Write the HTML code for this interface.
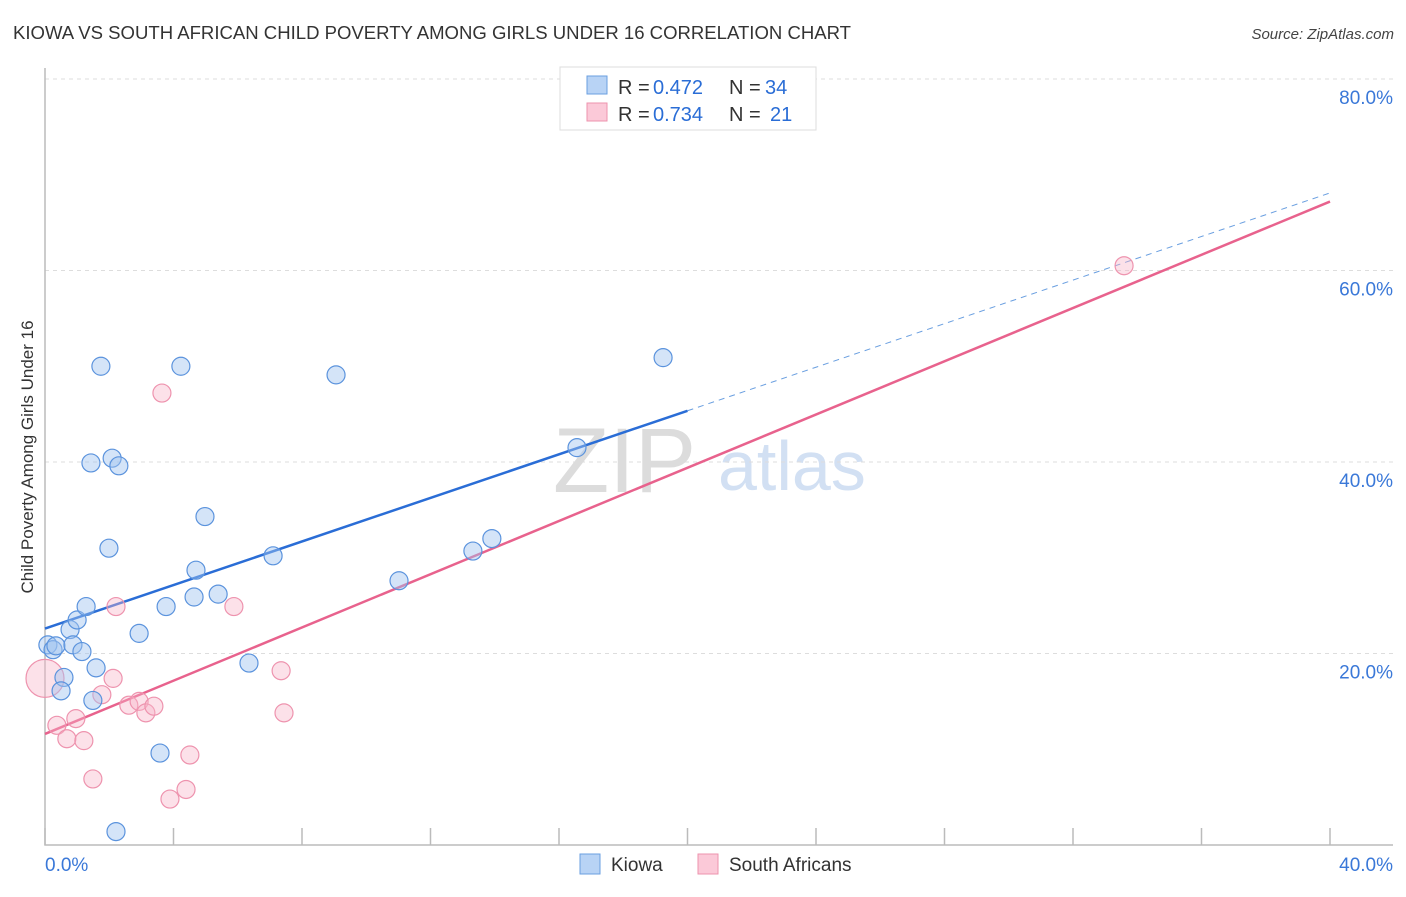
<!DOCTYPE html>
<html><head><meta charset="utf-8"><style>
body{margin:0;background:#fff;font-family:"Liberation Sans",sans-serif}
svg text{font-family:"Liberation Sans",sans-serif}
</style></head><body>
<svg id="chart" width="1406" height="892" xmlns="http://www.w3.org/2000/svg">
<text x="13" y="39" font-size="18" fill="#333" textLength="838" lengthAdjust="spacingAndGlyphs">KIOWA VS SOUTH AFRICAN CHILD POVERTY AMONG GIRLS UNDER 16 CORRELATION CHART</text>
<text x="1394" y="39" font-size="15" fill="#444" text-anchor="end" font-style="italic">Source: ZipAtlas.com</text>
<g>
<text x="553" y="492" font-size="92" fill="#dcdcdc" font-family="Liberation Serif">ZIP</text>
<text x="718" y="490" font-size="70" fill="#d2e0f3">atlas</text>
</g>
<g id="grid"></g>
<g id="axes"></g>
<g id="lines"></g>
<g id="points"></g>
<text transform="translate(33,457) rotate(-90)" text-anchor="middle" font-size="17" fill="#333">Child Poverty Among Girls Under 16</text>
<g>
<rect x="560" y="67" width="256" height="63" fill="#fff" stroke="#ddd"/>
<rect x="587" y="76" width="20" height="18" fill="#b8d3f5" stroke="#6a9fe0"/>
<rect x="587" y="103" width="20" height="18" fill="#fbc9d8" stroke="#ee93ae"/>
<text x="618" y="94" font-size="20" fill="#333">R = </text><text x="653" y="94" font-size="20" fill="#2a6dd6">0.472</text>
<text x="729" y="94" font-size="20" fill="#333">N = </text><text x="765" y="94" font-size="20" fill="#2a6dd6">34</text>
<text x="618" y="121" font-size="20" fill="#333">R = </text><text x="653" y="121" font-size="20" fill="#2a6dd6">0.734</text>
<text x="729" y="121" font-size="20" fill="#333">N = </text><text x="770" y="121" font-size="20" fill="#2a6dd6">21</text>
</g>
<g>
<rect x="580" y="854" width="20" height="20" fill="#b8d3f5" stroke="#6a9fe0"/>
<text x="611" y="871" font-size="19" fill="#333">Kiowa</text>
<rect x="698" y="854" width="20" height="20" fill="#fbc9d8" stroke="#ee93ae"/>
<text x="729" y="871" font-size="19" fill="#333">South Africans</text>
</g>
</svg>
<script>
const yTicks=[20,40,60,80];
const yTickLabels=["20.0%","40.0%","60.0%","80.0%"];
const xTicks=[0,4,8,12,16,20,24,28,32,36,40];
const kiowaX=[0.09,0.25,0.34,0.59,0.50,0.78,0.87,1.00,1.15,1.28,1.59,1.49,1.74,1.43,2.09,2.30,1.99,2.93,3.77,3.58,4.23,4.98,4.70,4.64,5.39,6.35,7.10,9.06,11.02,13.32,13.91,16.56,19.24,2.21];
const kiowaY=[20.9,20.4,20.8,17.5,16.1,22.5,20.9,23.5,20.2,24.9,18.5,15.1,50.0,39.9,40.4,39.6,31.0,22.1,24.9,9.6,50.0,34.3,28.7,25.9,26.2,19.0,30.2,49.1,27.6,30.7,32.0,41.5,50.9,1.4];
const saX=[0,0.37,0.68,0.96,1.21,1.49,1.77,2.12,2.21,2.61,2.93,3.14,3.39,3.64,3.89,4.39,4.51,5.88,7.35,7.44,33.59];
const saY=[17.4,12.5,11.1,13.2,10.9,6.9,15.7,17.4,24.9,14.6,15.0,13.8,14.5,47.2,4.8,5.8,9.4,24.9,18.2,13.8,60.5];
const kiowaFit=[22.6,68.1];
const saFit=[11.6,67.2];
const NS="http://www.w3.org/2000/svg";
const X=v=>45+v/40*1285;
const Y=v=>845-v/20*191.5;
function mk(tag,attrs,parent){const e=document.createElementNS(NS,tag);for(const k in attrs)e.setAttribute(k,attrs[k]);document.getElementById(parent).appendChild(e);return e;}
yTicks.forEach((t,i)=>{
 const g=mk('line',{x1:45,x2:1393,y1:Y(t),y2:Y(t),stroke:'#ddd','stroke-dasharray':'4,4'},'grid');
 
 
 const l=mk('text',{x:1393,y:Y(t)+25,'font-size':19,fill:'#3a78d8','text-anchor':'end'},'axes');
 l.textContent=yTickLabels[i];
 
 
});
const ax=mk('path',{d:'M45 68V845H1393',fill:'none',stroke:'#bbb','stroke-width':1.5},'axes');


xTicks.forEach(t=>{
 const tk=mk('line',{x1:X(t),x2:X(t),y1:828,y2:845,stroke:'#bbb','stroke-width':1.5},'axes');
 
 
});
[[0,'0.0%','start',45],[40,'40.0%','end',1393]].forEach(a=>{
 const l=mk('text',{x:a[3],y:871,'font-size':19,fill:'#3a78d8','text-anchor':a[2]},'axes');
 l.textContent=a[1];
 
 
});
const slope=(kiowaFit[1]-kiowaFit[0])/40;
const bl=mk('line',{x1:X(0),y1:Y(kiowaFit[0]),x2:X(20),y2:Y(kiowaFit[0]+slope*20),stroke:'#2a6dd6','stroke-width':2.5},'lines');


const bd=mk('line',{x1:X(20),y1:Y(kiowaFit[0]+slope*20),x2:X(40),y2:Y(kiowaFit[1]),stroke:'#6a9fe0','stroke-width':1,'stroke-dasharray':'6,5'},'lines');


const pl=mk('line',{x1:X(0),y1:Y(saFit[0]),x2:X(40),y2:Y(saFit[1]),stroke:'#e8628d','stroke-width':2.5},'lines');


saX.forEach((x,i)=>{
 const c=mk('circle',{cx:X(x),cy:Y(saY[i]),r:i===0?19:9,fill:'rgba(248,180,200,0.4)',stroke:'#ee93ae','stroke-width':1.2},'points');
 
 
});
kiowaX.forEach((x,i)=>{
 const c=mk('circle',{cx:X(x),cy:Y(kiowaY[i]),r:9,fill:'rgba(160,195,240,0.45)',stroke:'#5b93dd','stroke-width':1.2},'points');
 
 
});
</script>
</body></html>
